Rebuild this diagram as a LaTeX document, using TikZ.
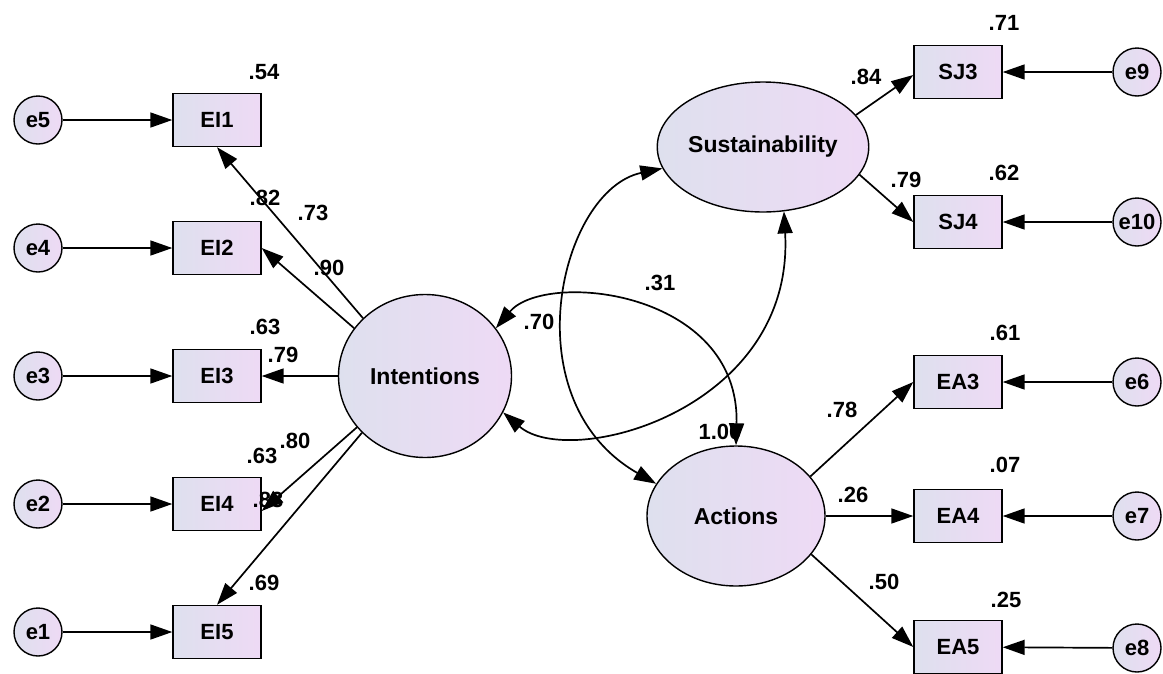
\documentclass[tikz,border=0pt]{standalone}
\usepackage{fontspec}
\setmainfont{Liberation Sans}
\usetikzlibrary{arrows.meta,shapes.geometric}
\definecolor{cA}{RGB}{222,224,238}
\definecolor{cB}{RGB}{238,218,245}
\begin{document}
\begin{tikzpicture}[x=1pt,y=-1pt,
  every node/.style={font=\fontsize{22}{26}\selectfont\bfseries},
  obs/.style={draw, line width=1.4pt, minimum width=88pt, minimum height=53pt, left color=cA, right color=cB, inner sep=0pt},
  err/.style={draw, circle, line width=1.4pt, minimum size=48pt, inner sep=0pt, left color=cA, right color=cB},
  lat/.style={draw, ellipse, line width=1.4pt, left color=cA, right color=cB, inner sep=0pt, font=\fontsize{23}{27}\selectfont\bfseries},
  lbl/.style={inner sep=0pt},
  arr/.style={line width=1.7pt, -{Triangle[length=22pt,width=15pt]}},
  dbl/.style={line width=1.7pt, {Triangle[length=22pt,width=15pt]}-{Triangle[length=22pt,width=15pt]}},
]
\useasboundingbox (0,0) rectangle (1163,673);
\fill[white] (0,0) rectangle (1163,673);

% latent variables
\node[lat, minimum width=173pt, minimum height=163pt] (I) at (425,376) {Intentions};
\node[lat, minimum width=210pt, minimum height=130pt] (S) at (763,147) {Sustainability};
\node[lat, minimum width=178pt, minimum height=140pt] (A) at (736,516) {Actions};

% observed
\node[obs] (EI1) at (217,120) {EI1};
\node[obs] (EI2) at (217,248) {EI2};
\node[obs] (EI3) at (217,376) {EI3};
\node[obs] (EI4) at (217,504) {EI4};
\node[obs] (EI5) at (217,632) {EI5};
\node[obs] (SJ3) at (958,72) {SJ3};
\node[obs] (SJ4) at (958,222) {SJ4};
\node[obs] (EA3) at (958,382) {EA3};
\node[obs] (EA4) at (958,516) {EA4};
\node[obs] (EA5) at (958,647) {EA5};

% errors
\node[err] (e5) at (38,120) {e5};
\node[err] (e4) at (38,248) {e4};
\node[err] (e3) at (38,376) {e3};
\node[err] (e2) at (38,504) {e2};
\node[err] (e1) at (38,632) {e1};
\node[err] (e9) at (1137,72) {e9};
\node[err] (e10) at (1137,222) {e10};
\node[err] (e6) at (1137,382) {e6};
\node[err] (e7) at (1137,516) {e7};
\node[err] (e8) at (1137,648) {e8};

% labels
\node[lbl] (l54) at (264,72) {.54};
\node[lbl] (l82) at (265,198) {.82};
\node[lbl] (l73) at (313,213) {.73};
\node[lbl] (l90) at (329,268) {.90};
\node[lbl] (l63a) at (265,327) {.63};
\node[lbl] (l79a) at (283,355) {.79};
\node[lbl] (l80) at (295,441) {.80};
\node[lbl] (l63b) at (262,456) {.63};
\node[lbl] (l83) at (268,500) {.83};
\node[lbl] (l69) at (264,583) {.69};
\node[lbl] (l71) at (1004,23) {.71};
\node[lbl] (l84) at (866,77) {.84};
\node[lbl] (l62) at (1004,173) {.62};
\node[lbl] (l79b) at (906,180) {.79};
\node[lbl] (l61) at (1005,333) {.61};
\node[lbl] (l78) at (842,410) {.78};
\node[lbl] (l100) at (720,432) {1.00};
\node[lbl] (l07) at (1005,465) {.07};
\node[lbl] (l26) at (853,495) {.26};
\node[lbl] (l50) at (884,582) {.50};
\node[lbl] (l25) at (1006,600) {.25};
\node[lbl] (l31) at (660,283) {.31};
\node[lbl] (l70) at (539,322) {.70};

% error arrows
\draw[arr] (e5) -- (EI1);
\draw[arr] (e4) -- (EI2);
\draw[arr] (e3) -- (EI3);
\draw[arr] (e2) -- (EI4);
\draw[arr] (e1) -- (EI5);
\draw[arr] (e9) -- (SJ3);
\draw[arr] (e10) -- (SJ4);
\draw[arr] (e6) -- (EA3);
\draw[arr] (e7) -- (EA4);
\draw[arr] (e8) -- (EA5);

% loadings
\draw[arr] (I.137) -- (EI1.south);
\draw[arr] (I.146) -- (EI2.east);
\draw[arr] (I.west) -- (EI3.east);
\draw[arr] (I.217) -- ([yshift=-7pt]EI4.east);
\draw[arr] (I.222) -- (EI5.north);
\draw[arr] (S.19) -- ([yshift=-3pt]SJ3.west);
\draw[arr] (S.-16) -- (SJ4.west);
\draw[arr] (A.28) -- (EA3.west);
\draw[arr] (A.east) -- (EA4.west);
\draw[arr] (A.-27) -- (EA5.west);

% covariances
\draw[dbl] (I.34) .. controls (545,270) and (740,290) .. (A.north);
\draw[dbl] (I.335) .. controls (570,470) and (795,410) .. (S.288);
\draw[dbl] (S.192) .. controls (560,190) and (510,400) .. (A.158);
\end{tikzpicture}
\end{document}
